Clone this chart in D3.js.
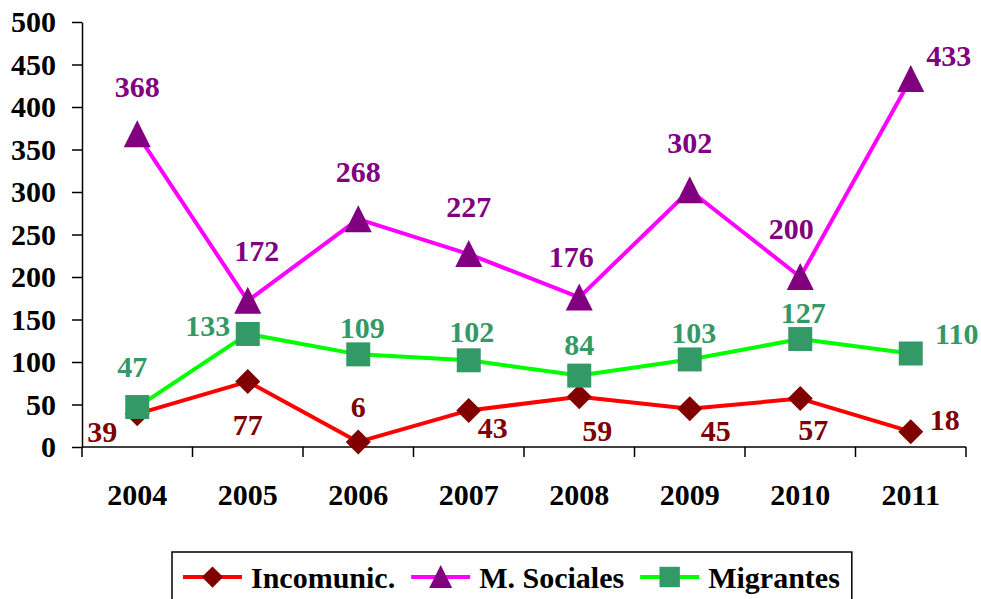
<!DOCTYPE html>
<html>
<head>
<meta charset="utf-8">
<script src="https://cdn.jsdelivr.net/npm/d3@7"></script>
<style>
  body { margin: 0; background: #fff; }
  svg text { font-family: "Liberation Serif", "Times New Roman", serif; font-weight: bold; }
</style>
</head>
<body>
<div id="chart"></div>
<script>
// data
const years = ["2004", "2005", "2006", "2007", "2008", "2009", "2010", "2011"];
const incomunic = [39, 77, 6, 43, 59, 45, 57, 18];
const mSociales = [368, 172, 268, 227, 176, 302, 200, 433];
const migrantes = [47, 133, 109, 102, 84, 103, 127, 110];
const yTicks = [0, 50, 100, 150, 200, 250, 300, 350, 400, 450, 500];

const W = 981, H = 599;
const plotLeft = 82, plotRight = 966, plotTop = 22, plotBottom = 447;

// label offsets (dx, baseline dy) from the marker centre
const offIncomunic = [[-35, 28], [0, 53], [0, -25], [24, 28], [18, 44], [26, 32], [13, 41], [34, -2]];
const offSociales = [[0, -37], [9, -40], [0, -37], [0, -37], [-8, -30], [0, -37], [-9, -38], [38, -13]];
const offMigrantes = [[-5, -30], [-40, 2], [4, -16], [3, -18], [0, -21], [4, -16], [3, -16], [46, -10]];

const series = [
  { name: "Incomunic.", values: incomunic, line: "#ff0000", mark: "#800000", shape: "diamond", off: offIncomunic },
  { name: "M. Sociales", values: mSociales, line: "#ff00ff", mark: "#800080", shape: "triangle", off: offSociales },
  { name: "Migrantes", values: migrantes, line: "#00ff00", mark: "#339966", shape: "square", off: offMigrantes }
];

const svg = d3.select("#chart").append("svg")
  .attr("width", W).attr("height", H);

const x = d3.scaleBand().domain(years).range([plotLeft, plotRight]).padding(0);
const y = d3.scaleLinear().domain([0, 500]).range([plotBottom, plotTop]);
const cx = d => x(d) + x.bandwidth() / 2;

// y axis
const yAxis = svg.append("g")
  .attr("transform", `translate(${plotLeft},0)`)
  .call(d3.axisLeft(y).tickValues(yTicks).tickSize(10).tickSizeOuter(0).tickPadding(16));
yAxis.selectAll("text").attr("font-size", 30).attr("fill", "#000")
  .attr("font-family", "Liberation Serif").attr("font-weight", "bold");
yAxis.selectAll("path, line").attr("stroke", "#000").attr("stroke-width", 1.5);

// x axis: line plus ticks at category boundaries
const xg = svg.append("g");
xg.append("line").attr("x1", plotLeft).attr("x2", plotRight).attr("y1", plotBottom).attr("y2", plotBottom)
  .attr("stroke", "#000").attr("stroke-width", 1.5);
const bounds = years.map(d => x(d)).concat([plotRight]);
xg.selectAll("line.tick").data(bounds).enter().append("line")
  .attr("class", "tick")
  .attr("x1", d => d).attr("x2", d => d).attr("y1", plotBottom).attr("y2", plotBottom + 10)
  .attr("stroke", "#000").attr("stroke-width", 1.5);
xg.selectAll("text").data(years).enter().append("text")
  .attr("x", d => cx(d)).attr("y", 505)
  .attr("text-anchor", "middle").attr("font-size", 30).attr("fill", "#000")
  .text(d => d);

function markerPath(shape) {
  if (shape === "diamond") return "M0,-12.5L12.5,0L0,12.5L-12.5,0Z";
  if (shape === "triangle") return "M0,-14L13.5,13L-13.5,13Z";
  return "M-12,-12H12V12H-12Z";
}

const line = d3.line().x((v, i) => cx(years[i])).y(v => y(v));

series.forEach(s => {
  const g = svg.append("g");
  g.append("path").attr("d", line(s.values))
    .attr("fill", "none").attr("stroke", s.line).attr("stroke-width", 4)
    .attr("stroke-linejoin", "round");
  g.selectAll("path.mark").data(s.values).enter().append("path")
    .attr("class", "mark")
    .attr("d", markerPath(s.shape))
    .attr("transform", (v, i) => `translate(${cx(years[i])},${y(v)})`)
    .attr("fill", s.mark);
});

// data labels on top
series.forEach(s => {
  svg.append("g").selectAll("text").data(s.values).enter().append("text")
    .attr("x", (v, i) => cx(years[i]) + s.off[i][0])
    .attr("y", (v, i) => y(v) + s.off[i][1])
    .attr("text-anchor", "middle").attr("font-size", 30).attr("fill", s.mark)
    .text(v => v);
});

// legend
const lg = svg.append("g");
const box = lg.append("rect").attr("x", 172).attr("y", 552).attr("height", 70)
  .attr("fill", "#fff").attr("stroke", "#000").attr("stroke-width", 1.5);
let lx = 183;
series.forEach(s => {
  lg.append("line").attr("x1", lx).attr("x2", lx + 59).attr("y1", 577).attr("y2", 577)
    .attr("stroke", s.line).attr("stroke-width", 4);
  lg.append("path").attr("d", markerPath(s.shape))
    .attr("transform", `translate(${lx + 29.5},577) scale(0.85)`)
    .attr("fill", s.mark);
  const t = lg.append("text").attr("x", lx + 68).attr("y", 588)
    .attr("font-size", 30).attr("fill", "#000").text(s.name);
  lx = lx + 68 + t.node().getComputedTextLength() + 16;
});
box.attr("width", lx - 16 + 12 - 172);
</script>
</body>
</html>
